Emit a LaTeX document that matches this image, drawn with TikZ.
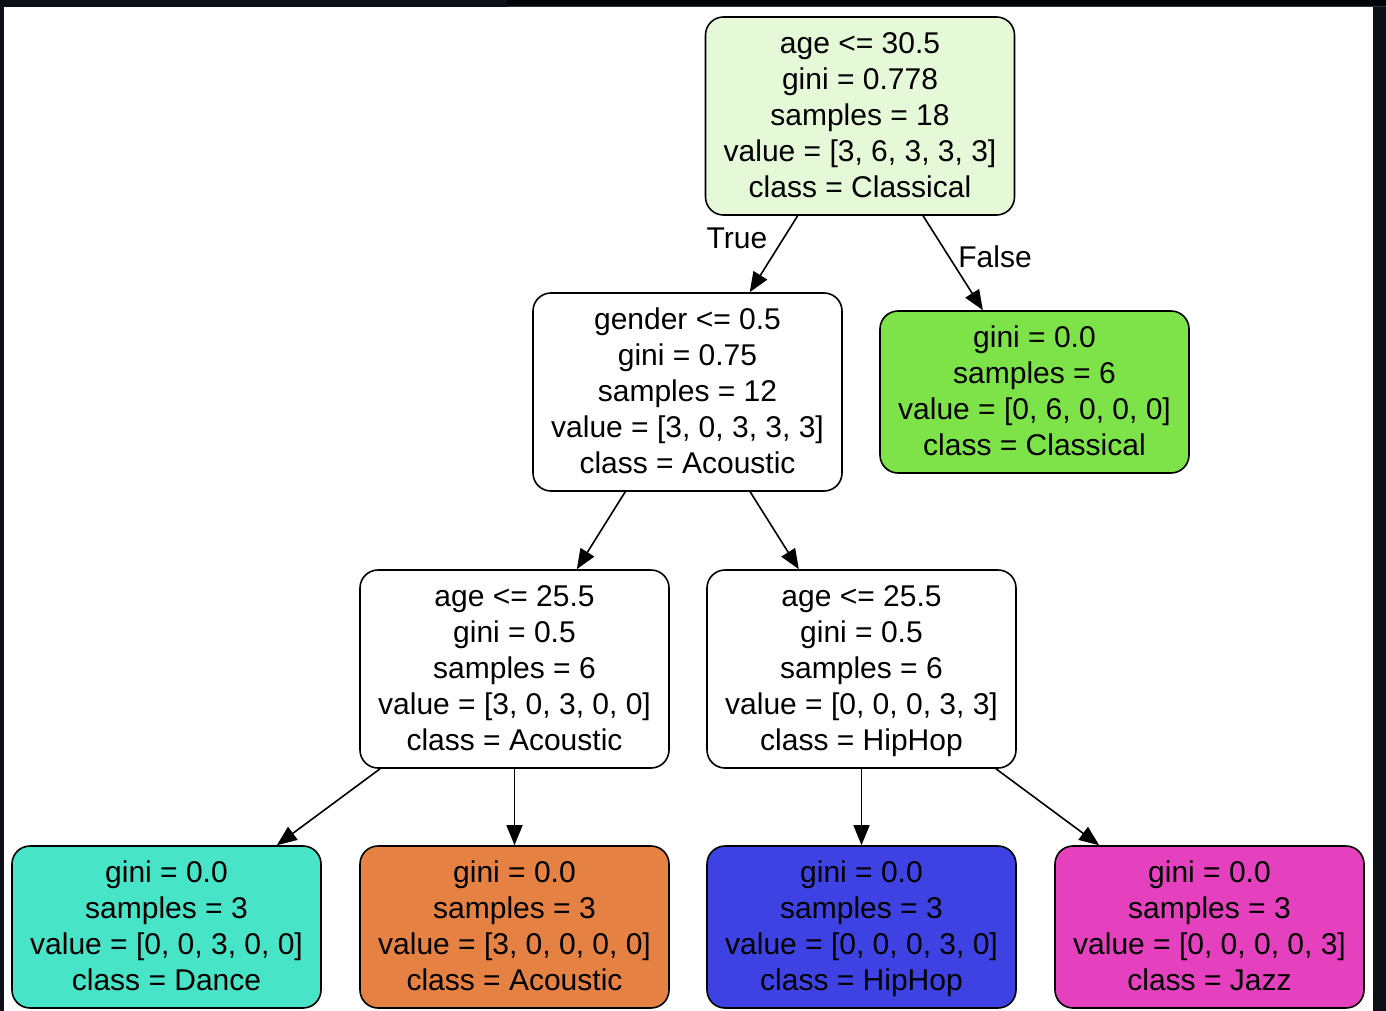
\documentclass[tikz,border=0pt]{standalone}
\usepackage{fontspec}
\setmainfont{Liberation Sans}
\usetikzlibrary{arrows.meta, positioning}
\usepackage{xcolor}
\definecolor{rootgreen}{RGB}{229,249,217}
\definecolor{classicalgreen}{RGB}{125,227,72}
\definecolor{dancecyan}{RGB}{72,228,200}
\definecolor{acousticorange}{RGB}{229,129,66}
\definecolor{hiphopblue}{RGB}{62,66,226}
\definecolor{jazzpink}{RGB}{229,65,191}
\definecolor{pagedark}{RGB}{13,17,23}
\definecolor{barblack}{RGB}{1,4,9}
\definecolor{bargrey}{RGB}{48,54,61}

\begin{document}
\begin{tikzpicture}[x=0.5pt,y=-0.5pt,
    treenode/.style={draw, rectangle, rounded corners=9pt, line width=0.8pt,
        minimum width=154.5pt, minimum height=99pt, inner sep=0pt, align=center,
        font=\fontsize{15}{18}\selectfont, text height=82.9pt, text depth=1.4pt},
    leafnode/.style={treenode, minimum height=81pt, text height=64.9pt},
    edge/.style={line width=0.8pt, -{Triangle[length=10pt,width=8pt]}},
    edgelabel/.style={font=\fontsize{15}{18}\selectfont}]
    % page frame
    \useasboundingbox (0,0) rectangle (1386,1011);
    \fill[pagedark] (0,0) rectangle (1386,1011);
    \fill[barblack] (507,0) rectangle (1386,6);
    \fill[bargrey] (507,6) rectangle (1386,7.5);
    \fill[white] (3.5,7.5) rectangle (1373,1011);
    % split nodes
    \node[treenode, fill=rootgreen] (root) at (860,116)
        {age <= 30.5\\gini = 0.778\\samples = 18\\value = [3, 6, 3, 3, 3]\\class = Classical};
    \node[treenode, fill=white] (gender) at (687.5,392)
        {gender <= 0.5\\gini = 0.75\\samples = 12\\value = [3, 0, 3, 3, 3]\\class = Acoustic};
    \node[leafnode, fill=classicalgreen] (classical) at (1034.5,392)
        {gini = 0.0\\samples = 6\\value = [0, 6, 0, 0, 0]\\class = Classical};
    \node[treenode, fill=white] (ageleft) at (514.5,669)
        {age <= 25.5\\gini = 0.5\\samples = 6\\value = [3, 0, 3, 0, 0]\\class = Acoustic};
    \node[treenode, fill=white] (ageright) at (861.5,669)
        {age <= 25.5\\gini = 0.5\\samples = 6\\value = [0, 0, 0, 3, 3]\\class = HipHop};
    % leaves
    \node[leafnode, fill=dancecyan] (dance) at (166.5,927)
        {gini = 0.0\\samples = 3\\value = [0, 0, 3, 0, 0]\\class = Dance};
    \node[leafnode, fill=acousticorange] (acoustic) at (514.5,927)
        {gini = 0.0\\samples = 3\\value = [3, 0, 0, 0, 0]\\class = Acoustic};
    \node[leafnode, fill=hiphopblue] (hiphop) at (861.5,927)
        {gini = 0.0\\samples = 3\\value = [0, 0, 0, 3, 0]\\class = HipHop};
    \node[leafnode, fill=jazzpink] (jazz) at (1209.5,927)
        {gini = 0.0\\samples = 3\\value = [0, 0, 0, 0, 3]\\class = Jazz};
    % edges
    \draw[edge] (root) -- (gender);
    \draw[edge] (root) -- (classical);
    \draw[edge] (gender) -- (ageleft);
    \draw[edge] (gender) -- (ageright);
    \draw[edge] (ageleft) -- (dance);
    \draw[edge] (ageleft) -- (acoustic);
    \draw[edge] (ageright) -- (hiphop);
    \draw[edge] (ageright) -- (jazz);
    \node[edgelabel] (truelabel) at (737,238) {True};
    \node[edgelabel] (falselabel) at (995,257) {False};
\end{tikzpicture}
\end{document}
